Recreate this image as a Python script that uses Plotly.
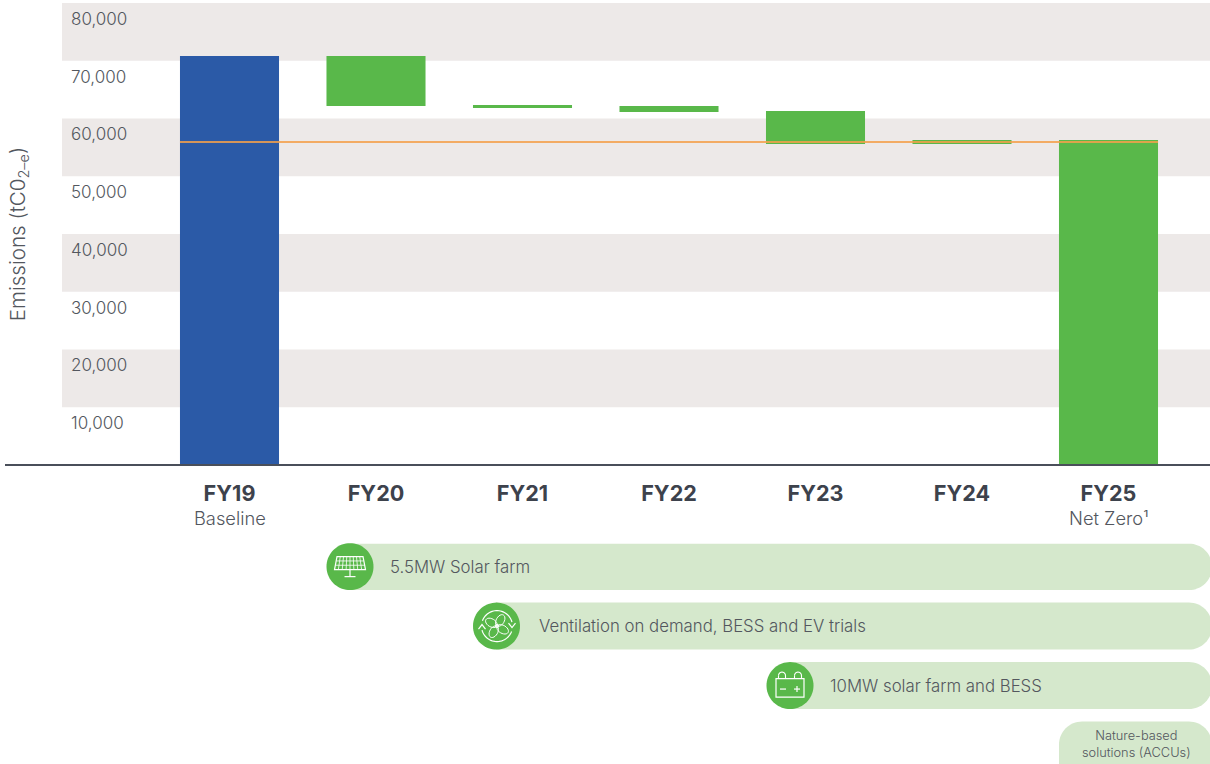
import math
import plotly.graph_objects as go

W, H = 1210, 764
PLOT_L, PLOT_BOTTOM = 62, 465.3
PX_PER_10K = 57.8
BAR_STEP = 146.5
FIRST_CENTER = 229.5

categories = ["FY19", "FY20", "FY21", "FY22", "FY23", "FY24", "FY25"]
sublabels = ["Baseline", "", "", "", "", "", "Net Zero¹"]
bar_top = [70800, 70800, 62340, 62170, 61300, 56280, 56280]
bar_bottom = [0, 62170, 61820, 61120, 55590, 55590, 0]
bar_colors = ["#2b5aa7", "#59b84a", "#59b84a", "#59b84a", "#59b84a", "#59b84a", "#59b84a"]
target_line = 55930
y_ticks = [10000, 20000, 30000, 40000, 50000, 60000, 70000, 80000]
band_ranges = [(70000, 80000), (50000, 60000), (30000, 40000), (10000, 20000)]
initiatives = ["5.5MW Solar farm", "Ventilation on demand, BESS and EV trials", "10MW solar farm and BESS"]
last_initiative = "Nature-based<br>solutions (ACCUs)"

TEXT = "#53575e"
DARK = "#3d424c"
GREEN = "#59b84a"
PILL = "#d5e8cc"
BAND = "#ede9e8"
ORANGE = "rgba(243,160,75,0.85)"
FONT = "Inter"
LIGHT = 300


def fx(x):
    return (x - PLOT_L) / (W - PLOT_L)


def fy(y):
    return (PLOT_BOTTOM - y) / PLOT_BOTTOM


def path(points, close=False):
    s = "M" + " L".join(f"{fx(x):.5f},{fy(y):.5f}" for x, y in points)
    return s + (" Z" if close else "")


def arc(cx, cy, rx, ry=None, a0=0, a1=360, rot=0, n=48):
    ry = rx if ry is None else ry
    r = math.radians(rot)
    pts = []
    for i in range(n + 1):
        a = math.radians(a0 + (a1 - a0) * i / n)
        dx, dy = rx * math.cos(a), ry * math.sin(a)
        pts.append((cx + dx * math.cos(r) - dy * math.sin(r), cy + dx * math.sin(r) + dy * math.cos(r)))
    return pts


shapes = []
annotations = []


def icon_line(points, close=False, width=1.2):
    shapes.append(dict(type="path", xref="paper", yref="paper", path=path(points, close),
                       line=dict(color="white", width=width), fillcolor="rgba(0,0,0,0)", layer="above"))


def pill(x0, y0, x1, y1, r_right, r_left=0):
    pts = []
    if r_left:
        pts += arc(x0 + r_left, y1 - r_left, r_left, a0=90, a1=180, n=16)
        pts += arc(x0 + r_left, y0 + r_left, r_left, a0=180, a1=270, n=16)
    else:
        pts += [(x0, y1), (x0, y0)]
    pts += arc(x1 - r_right, y0 + r_right, r_right, a0=270, a1=360, n=16)
    pts += arc(x1 - r_right, y1 - r_right, r_right, a0=0, a1=90, n=16)
    shapes.append(dict(type="path", xref="paper", yref="paper", path=path(pts, True),
                       fillcolor=PILL, line=dict(width=0), layer="below"))


def badge(cx, cy, r=23.5):
    shapes.append(dict(type="path", xref="paper", yref="paper", path=path(arc(cx, cy, r, n=72), True),
                       fillcolor=GREEN, line=dict(width=0), layer="below"))


def label(x, y, text, size=16.8, xanchor="left", color=TEXT, angle=0):
    annotations.append(dict(xref="paper", yref="paper", x=fx(x), y=fy(y), text=text, showarrow=False,
                            xanchor=xanchor, yanchor="middle", textangle=angle,
                            font=dict(family=FONT, size=size, color=color, weight=LIGHT)))


# background bands
for lo, hi in band_ranges:
    shapes.append(dict(type="rect", xref="paper", yref="y", x0=0, x1=1, y0=lo, y1=hi,
                       fillcolor=BAND, line=dict(width=0), layer="below"))

# target line
half_bar = 0.338
shapes.append(dict(type="line", xref="x", yref="y", x0=-half_bar, x1=len(categories) - 1 + half_bar,
                   y0=target_line, y1=target_line, line=dict(color=ORANGE, width=2), layer="above"))

# baseline
shapes.append(dict(type="line", xref="paper", yref="paper", x0=fx(5), x1=1, y0=0, y1=0,
                   line=dict(color="#4a4f5a", width=2), layer="above"))

# initiative pills
pill(350, 544, 1212, 590.5, 23)
badge(350, 567)
label(388, 567, initiatives[0])
pill(496, 603, 1212, 650, 23)
badge(496.5, 626.5)
label(537, 626.5, initiatives[1])
pill(790, 662.5, 1212, 709.5, 23)
badge(790, 686)
label(828, 686, initiatives[2])
pill(1059, 722, 1212, 790, 23, 23)
label(1136.5, 744.5, last_initiative, size=12.8, xanchor="center")

# solar panel icon
cx, cy = 350, 564
icon_line([(cx - 13, cy - 7), (cx + 13, cy - 7), (cx + 15.5, cy + 6), (cx - 15.5, cy + 6)], True)
for t in (-0.75, -0.5, -0.25, 0, 0.25, 0.5, 0.75):
    icon_line([(cx + t * 13, cy - 7), (cx + t * 15.5, cy + 6)], width=0.8)
for t, wd in ((-2.7, 13.7), (1.6, 14.6)):
    icon_line([(cx - wd, cy + t), (cx + wd, cy + t)], width=0.8)
icon_line([(cx, cy + 6), (cx, cy + 13)])
icon_line([(cx - 5.5, cy + 13), (cx + 5.5, cy + 13)])

# fan icon
cx, cy = 497, 626.5
icon_line(arc(cx, cy, 15.5, a0=200, a1=345, n=28))
icon_line(arc(cx, cy, 15.5, a0=20, a1=165, n=28))
icon_line([(cx - 18.5, cy + 3), (cx - 15, cy - 1.5), (cx - 11.5, cy + 3)])
icon_line([(cx + 18.5, cy - 3), (cx + 15, cy + 1.5), (cx + 11.5, cy - 3)])
for rot in (30, 120, 210, 300):
    r = math.radians(rot)
    icon_line(arc(cx + 6.5 * math.cos(r), cy + 6.5 * math.sin(r), 6.3, 4, rot=rot, n=24), True, width=1)
icon_line(arc(cx, cy, 1.4, n=12), True)

# battery icon
cx, cy = 790, 688
icon_line([(cx - 14, cy - 9), (cx + 14, cy - 9), (cx + 14, cy + 9.5), (cx - 14, cy + 9.5)], True)
for dx in (-8, 8):
    icon_line(arc(cx + dx, cy - 12, 3.5, a0=180, a1=360, n=10) + [(cx + dx + 3.5, cy - 9)], width=1.1)
    icon_line([(cx + dx - 3.5, cy - 12), (cx + dx - 3.5, cy - 9)], width=1.1)
icon_line([(cx - 10, cy + 1.5), (cx - 4, cy + 1.5)])
icon_line([(cx + 4, cy + 1.5), (cx + 10, cy + 1.5)])
icon_line([(cx + 7, cy - 1.5), (cx + 7, cy + 4.5)])

# y axis title
label(18, 234.5, "Emissions (tC0<sub>2–e</sub>)", size=20.6, xanchor="center", angle=-90)

# sub-labels beneath the category names
for c, s in zip(categories, sublabels):
    if s:
        annotations.append(dict(xref="x", yref="paper", x=c, y=fy(518.5), text=s, showarrow=False,
                                xanchor="center", yanchor="middle",
                                font=dict(family=FONT, size=18.3, color=TEXT, weight=LIGHT)))

fig = go.Figure(go.Bar(
    x=categories,
    y=[t - b for t, b in zip(bar_top, bar_bottom)],
    base=bar_bottom,
    width=0.676,
    marker=dict(color=bar_colors, line=dict(width=0)),
    hoverinfo="skip",
))

fig.update_layout(
    width=W, height=H,
    margin=dict(l=PLOT_L, r=0, t=0, b=H - PLOT_BOTTOM, pad=0),
    paper_bgcolor="white", plot_bgcolor="rgba(0,0,0,0)",
    showlegend=False,
    font=dict(family=FONT, color=TEXT),
    shapes=shapes, annotations=annotations,
    xaxis=dict(
        type="category", categoryorder="array", categoryarray=categories,
        range=[(PLOT_L - FIRST_CENTER) / BAR_STEP, (W - FIRST_CENTER) / BAR_STEP],
        tickmode="array", tickvals=categories, ticktext=[f"<b>{c}</b>" for c in categories],
        tickfont=dict(family=FONT, size=21.6, color=DARK),
        showgrid=False, zeroline=False, showline=False, ticks="", ticklabelstandoff=13,
    ),
    yaxis=dict(
        range=[0, PLOT_BOTTOM / PX_PER_10K * 10000],
        tickmode="array", tickvals=y_ticks, ticktext=[f"{v:,}" for v in y_ticks],
        tickfont=dict(family=FONT, size=17, color=TEXT, weight=LIGHT),
        ticklabelposition="inside", ticklabelstandoff=6, ticklabelshift=16,
        showgrid=False, zeroline=False, showline=False, ticks="",
    ),
)

fig.write_html("out.html", config=dict(displayModeBar=False),
               post_script="document.body.style.margin='0';document.documentElement.style.overflow='hidden';")
